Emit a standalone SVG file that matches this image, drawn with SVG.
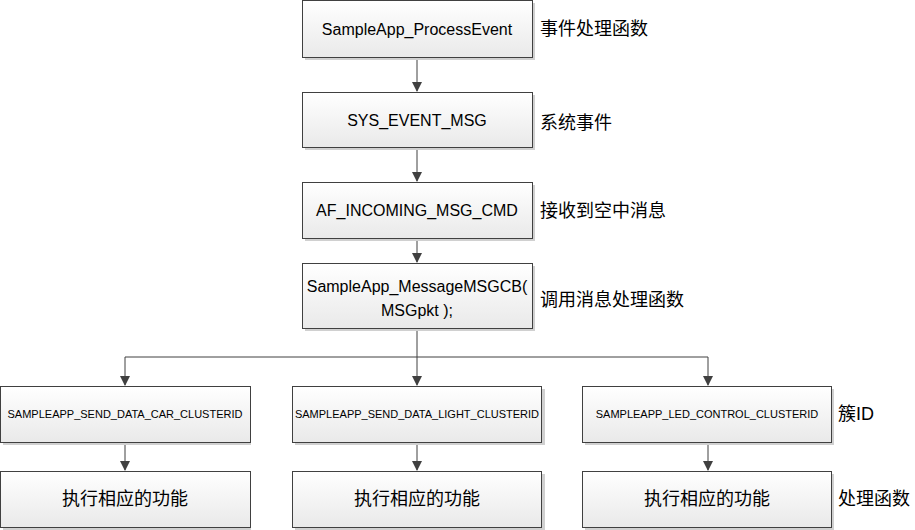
<svg xmlns="http://www.w3.org/2000/svg" width="915" height="530" viewBox="0 0 915 530">
<defs>
<linearGradient id="g" x1="0" y1="0" x2="0" y2="1">
<stop offset="0" stop-color="#ffffff"/>
<stop offset="1" stop-color="#e9e9e9"/>
</linearGradient>
<marker id="arr" markerWidth="10" markerHeight="10" refX="9" refY="5" orient="auto" markerUnits="userSpaceOnUse">
<path d="M0,0 L10,5 L0,10 Z" fill="#404040"/>
</marker>
</defs>
<style>
.box{fill:url(#g);stroke:#404040;stroke-width:1}
.sh{fill:#d0d0d0}
.t{font-family:"Liberation Sans","Noto Sans CJK SC",sans-serif;fill:#000;text-anchor:middle}
.l{font-family:"Liberation Sans","Noto Sans CJK SC",sans-serif;fill:#000;font-size:18px}
.c{stroke:#404040;stroke-width:1;fill:none}
</style>
<rect width="915" height="530" fill="#fff"/>
<g id="connectors">
<path class="c" d="M417,57 V91" marker-end="url(#arr)"/>
<path class="c" d="M417,147 V181" marker-end="url(#arr)"/>
<path class="c" d="M417,238 V262" marker-end="url(#arr)"/>
<path class="c" d="M417,328 V385" marker-end="url(#arr)"/>
<path class="c" d="M125,357 H708"/>
<path class="c" d="M125,357 V385" marker-end="url(#arr)"/>
<path class="c" d="M708,357 V385" marker-end="url(#arr)"/>
<path class="c" d="M125,442 V470" marker-end="url(#arr)"/>
<path class="c" d="M417,442 V470" marker-end="url(#arr)"/>
<path class="c" d="M708,442 V470" marker-end="url(#arr)"/>
</g>
<g id="n1">
<rect class="sh" x="305" y="3" width="230" height="57"/>
<rect class="box" x="302.5" y="0.5" width="230" height="57"/>
<text class="t" x="417" y="35" font-size="16">SampleApp_ProcessEvent</text>
</g>
<g id="n2">
<rect class="sh" x="305" y="95" width="230" height="55"/>
<rect class="box" x="302.5" y="92.5" width="230" height="55"/>
<text class="t" x="417" y="126" font-size="16">SYS_EVENT_MSG</text>
</g>
<g id="n3">
<rect class="sh" x="305" y="185" width="230" height="56"/>
<rect class="box" x="302.5" y="182.5" width="230" height="56"/>
<text class="t" x="417" y="216" font-size="16">AF_INCOMING_MSG_CMD</text>
</g>
<g id="n4">
<rect class="sh" x="305" y="266" width="230" height="65"/>
<rect class="box" x="302.5" y="263.5" width="230" height="65"/>
<text class="t" x="417" y="292" font-size="16">SampleApp_MessageMSGCB(</text>
<text class="t" x="417" y="316" font-size="16">MSGpkt );</text>
</g>
<g id="n5">
<rect class="sh" x="3" y="389" width="248" height="56"/>
<rect class="box" x="0.5" y="386.5" width="250" height="56"/>
<text class="t" x="125" y="418" font-size="11">SAMPLEAPP_SEND_DATA_CAR_CLUSTERID</text>
</g>
<g id="n6">
<rect class="sh" x="295" y="389" width="250" height="56"/>
<rect class="box" x="292.5" y="386.5" width="249" height="56"/>
<text class="t" x="417" y="418" font-size="11">SAMPLEAPP_SEND_DATA_LIGHT_CLUSTERID</text>
</g>
<g id="n7">
<rect class="sh" x="585" y="389" width="249" height="56"/>
<rect class="box" x="582.5" y="386.5" width="249" height="56"/>
<text class="t" x="707" y="418" font-size="11">SAMPLEAPP_LED_CONTROL_CLUSTERID</text>
</g>
<g id="n8">
<rect class="sh" x="3" y="474" width="248" height="56"/>
<rect class="box" x="0.5" y="471.5" width="250" height="56"/>
<text class="t" x="125" y="505" font-size="18">执行相应的功能</text>
</g>
<g id="n9">
<rect class="sh" x="295" y="474" width="250" height="56"/>
<rect class="box" x="292.5" y="471.5" width="249" height="56"/>
<text class="t" x="417" y="505" font-size="18">执行相应的功能</text>
</g>
<g id="n10">
<rect class="sh" x="585" y="474" width="249" height="56"/>
<rect class="box" x="582.5" y="471.5" width="249" height="56"/>
<text class="t" x="707" y="505" font-size="18">执行相应的功能</text>
</g>
<g id="labels">
<text class="l" x="540" y="35">事件处理函数</text>
<text class="l" x="540" y="129">系统事件</text>
<text class="l" x="540" y="217">接收到空中消息</text>
<text class="l" x="540" y="306">调用消息处理函数</text>
<text class="l" x="838" y="420">簇ID</text>
<text class="l" x="838" y="505">处理函数</text>
</g>
</svg>
